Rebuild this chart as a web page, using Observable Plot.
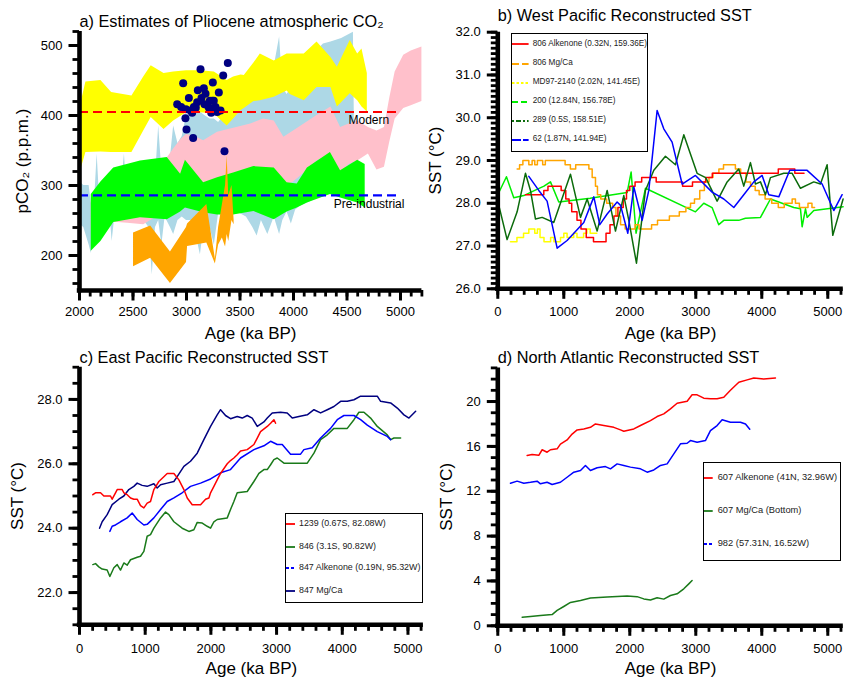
<!DOCTYPE html>
<html><head><meta charset="utf-8">
<script src="https://cdn.jsdelivr.net/npm/d3@7"></script>
<script src="https://cdn.jsdelivr.net/npm/@observablehq/plot@0.6"></script>
<style>
body{margin:0;background:#fff;}
#page{position:relative;width:844px;height:678px;overflow:hidden;background:#fff;font-family:"Liberation Sans",Arial,Helvetica,sans-serif;}
#page svg.panel{position:absolute;}
.lbox{position:absolute;border:1.6px solid #000;background:#fff;box-sizing:border-box;}
.litem{position:absolute;white-space:nowrap;color:#222;line-height:1;}
</style></head><body><div id="page"></div>
<script>
const aBlueX = [2000,2040,2090,2110,2140,2165,2190,2240,2290,2305,2330,2380,2420,2445,2480,2530,2600,2650,2680,2710,2740,2770,2800,2850,2880,2920,2960,3000,3060,3130,3170,3220,3260,3300,3350,3400,3450,3500,3560,3620,3660,3700,3760,3820,3870,3900,3940,3980,4020,4060,4130,4200,4280,4350,4450,4560,4575];
const aBlueLo = [245,240,215,203,250,240,260,250,250,220,255,250,255,250,250,250,250,240,172,240,250,215,255,240,230,250,255,250,250,201,250,240,215,260,260,250,260,260,255,240,228,250,230,255,230,250,262,245,265,270,275,280,285,290,290,300,320];
const aBlueHi = [306,300,300,275,275,345,275,275,275,275,275,280,345,280,280,280,285,290,300,310,385,320,330,340,385,360,370,400,405,405,400,395,395,390,400,420,430,432,440,445,445,440,430,470,512,440,430,440,445,460,470,490,502,505,510,519,300];
const aYellowX = [2010,2060,2200,2300,2490,2600,2670,2790,2880,3000,3130,3260,3380,3440,3510,3540,3630,3690,3820,3940,3970,4100,4220,4350,4410,4530,4600,4640,4690];
const aYellowHi = [415,448,450,433,428,455,471,460,462,464,464,462,450,455,458,457,475,488,478,488,488,488,505,483,469,507,488,495,460];
const aYellowLo = [321,347,348,347,347,378,397,380,392,404,404,402,385,395,407,410,420,421,426,435,430,421,440,440,412,431,421,412,405];
const aPinkX = [2110,2300,2450,2600,2720,2800,2880,2950,3000,3080,3160,3290,3450,3600,3720,3820,3910,4000,4100,4220,4350,4440,4520,4600,4700,4780,4850,4900,4950,5030,5100,5200];
const aPinkHi = [278,290,288,292,318,335,352,366,373,370,364,376,382,388,395,392,369,378,388,400,412,383,388,392,383,378,383,425,462,486,492,498];
const aPinkLo = [235,248,246,244,255,270,285,295,300,300,300,305,312,320,320,300,298,305,318,335,345,318,330,335,345,322,326,362,395,410,414,420];
const aGreenX = [2110,2200,2320,2570,2820,2945,2990,3160,3290,3440,3630,3820,3940,4035,4130,4345,4440,4600,4670];
const aGreenHi = [287,305,325,335,340,316,336,304,311,318,327,325,304,302,325,347,321,336,330];
const aGreenLo = [206,220,247,254,251,262,268,261,258,258,263,251,262,268,275,287,282,275,268];
const aOrangeX = [2505,2665,2850,3000,3010,3190,3270,3300,3335,3365,3380,3395,3425,3445];
const aOrangeHi = [232,242,205,240,245,273,195,240,272,300,342,285,300,250];
const aOrangeLo = [184,196,160,190,213,218,188,215,225,212,230,220,250,244];
const aDotX = [2913,2969,2994,3022,2990,3000,3062,3053,3100,3131,3106,3162,3178,3193,3231,3246,3255,3271,3302,3343,3386,3355,3287,3069,3240,3168,3037,3087,3209,3218,3318,2950,3140];
const aDotY = [416,446,409,425,396,380,368,404,419,466,436,439,431,415,404,447,421,412,433,457,475,349,405,412,421,416,407,411,411,421,407,412,425];
const aRefNames = ["Modern","Pre-industrial"];
const aRefLevels = [405, 286];
const aRefColors = ["#ff0000","#0000ff"];
const aRefSpan = [2000, 5000];
const aRefLabelX = [4704, 4706];
const aRefLabelY = [394, 274];

const bRedX = [419,697,760,960,1030,1080,1120,1200,1260,1340,1450,1640,1700,1760,1820,1900,1950,2000,2080,2180,2400,2800,2950,3150,3250,4250,4500,4640];
const bRedY = [28.2,28.3,28.4,28.3,28.1,28.0,27.8,27.6,27.4,27.2,27.1,27.3,27.5,27.7,27.9,28.1,28.3,28.4,28.5,28.6,28.5,28.4,28.5,28.6,28.7,28.8,28.7,28.7];
const bOrangeX = [293,330,380,470,520,560,600,680,720,1020,1100,1180,1380,1430,1480,1510,1560,1650,1740,1790,1860,1930,2080,2140,2330,2420,2600,2750,2850,2920,2980,3060,3130,3200,3260,3350,3420,3600,3680,3760,3830,3900,3960,4050,4150,4250,4340,4460,4510,4570,4700,4760,4800];
const bOrangeY = [28.8,28.9,29.0,28.9,29.0,28.9,29.0,28.9,29.0,28.9,28.8,28.9,28.8,28.6,28.4,28.2,28.1,28.0,27.9,27.7,27.5,27.4,27.5,27.4,27.5,27.6,27.7,27.8,27.9,28.0,28.1,28.3,28.5,28.6,28.7,28.8,28.9,28.8,28.7,28.5,28.4,28.3,28.2,28.1,28.0,27.9,28.0,28.1,28.0,27.9,28.0,27.9,27.9];
const bYellowX = [192,290,390,470,560,600,640,700,800,850,950,1000,1050,1150,1200,1300,1350,1400,1500];
const bYellowY = [27.1,27.2,27.3,27.4,27.3,27.4,27.2,27.1,27.2,27.1,27.2,27.3,27.2,27.3,27.2,27.3,27.4,27.3,27.3];
const bLimeX = [0,131,242,394,560,700,798,924,1400,1960,2020,2095,2237,2995,3121,3247,3348,3424,3651,3752,3980,4131,4485,4586,4611,4662,4687,4788,5232];
const bLimeY = [28.2,28.62,28.13,28.18,28.3,28.4,28.5,28.03,28.12,28.25,28.73,27.3,28.35,27.8,28.0,27.9,27.5,27.6,27.6,27.65,27.67,28.1,27.9,27.87,27.45,27.87,27.67,27.83,27.92];
const bDkGreenX = [0,141,293,419,495,571,672,848,1101,1253,1354,1505,1657,1783,1909,1985,2101,2237,2364,2540,2692,2818,3020,3150,3323,3475,3651,3727,3828,3904,3980,4055,4131,4333,4460,4586,4788,4889,4990,5076,5232];
const bDkGreenY = [28.05,27.15,27.8,28.7,28.3,27.63,27.67,27.55,28.68,27.67,28.1,27.35,28.3,27.35,28.18,27.6,26.6,28.3,28.77,29.1,28.9,29.6,28.7,28.6,28.05,28.5,28.8,28.4,28.95,28.45,28.5,28.2,28.6,28.7,28.7,28.35,28.5,28.45,28.9,27.25,28.1];
const bBlueX = [470,621,747,899,1050,1303,1455,1545,1657,1808,1860,1970,2061,2187,2288,2414,2515,2641,2793,2995,3247,3424,3576,3727,3879,4005,4106,4258,4424,4687,4914,5091,5217];
const bBlueY = [28.63,28.3,28.05,26.95,27.13,27.55,28.15,27.5,27.75,28.03,27.95,27.3,28.38,27.6,28.3,30.17,29.74,29.43,28.45,28.65,28.26,28.1,27.9,28.2,28.5,28.65,28.2,28.15,28.77,28.77,28.45,27.83,28.2];
const bLegendLabels = ["806 Alkenone (0.32N, 159.36E)","806 Mg/Ca","MD97-2140 (2.02N, 141.45E)","200 (12.84N, 156.78E)","289 (0.5S, 158.51E)","62 (1.87N, 141.94E)"];
const bColors = ["#ff0000","#ffa500","#ffff00","#00ee00","#0b6b0b","#0000ff"];
const bDashes = ["none","7,3","2.5,2","6,3","2,2,5,2","9,2"];

const cRedX = [203,244,320,371,472,497,548,574,650,675,726,777,827,878,929,980,1030,1081,1132,1208,1284,1335,1437,1513,1589,1640,1716,1843,1919,1970,1995,2046,2096,2147,2249,2299,2350,2401,2452,2553,2655,2706,2756,2858,2909,2959,2985];
const cRedY = [25.04,25.1,25.1,25.0,25.0,24.9,25.1,25.2,25.2,25.1,25.04,24.94,24.9,24.9,24.7,24.63,24.78,24.83,25.2,25.45,25.6,25.7,25.7,25.5,25.2,24.94,24.73,24.73,24.9,24.94,25.1,25.3,25.5,25.7,26.0,26.1,26.18,26.28,26.4,26.44,26.6,26.8,27.0,27.16,27.26,27.37,27.26];
const cGreenX = [203,244,294,345,421,462,523,574,624,675,726,777,878,929,980,1030,1081,1132,1234,1310,1360,1437,1563,1665,1741,1792,1868,1944,1995,2046,2096,2249,2299,2350,2401,2553,2655,2731,2807,2858,2909,2959,3010,3112,3467,3569,3670,3772,3873,4076,4178,4254,4330,4431,4533,4685,4736,4787,4888];
const cGreenY = [22.87,22.9,22.8,22.73,22.7,22.5,22.77,22.87,22.7,22.92,22.85,23.02,23.1,23.13,23.28,23.75,23.8,24.0,24.32,24.5,24.42,24.2,24.0,23.9,23.95,24.18,24.16,24.06,24.0,24.2,24.27,24.32,24.58,24.83,25.1,25.14,25.45,25.7,25.82,25.82,25.97,26.13,26.18,26.02,26.02,26.33,26.75,26.9,27.1,27.1,27.37,27.6,27.6,27.42,27.16,26.9,26.75,26.8,26.8];
const cBlueX = [462,497,548,624,726,802,878,980,1030,1132,1234,1335,1437,1563,1690,1843,1995,2147,2299,2452,2655,2807,2909,3010,3086,3213,3365,3416,3543,3670,3822,3924,4025,4178,4279,4381,4533,4685,4736];
const cBlueY = [23.9,24.06,24.1,24.2,24.32,24.47,24.27,24.1,24.12,24.32,24.58,24.83,24.94,25.1,25.3,25.4,25.53,25.72,25.82,26.18,26.44,26.56,26.7,26.6,26.6,26.3,26.3,26.44,26.5,26.8,27.1,27.37,27.5,27.5,27.37,27.2,27.0,26.85,26.75];
const cNavyX = [305,345,421,497,599,675,751,827,878,954,1030,1132,1183,1234,1335,1437,1487,1589,1690,1792,1893,1995,2096,2147,2223,2299,2401,2477,2553,2629,2706,2807,2858,2934,3061,3162,3239,3340,3467,3569,3670,3772,3873,3975,4076,4178,4279,4533,4584,4736,4838,4939,5015,5117];
const cNavyY = [24.0,24.2,24.42,24.73,24.9,25.0,25.2,25.3,25.4,25.33,25.3,25.38,25.25,25.35,25.4,25.45,25.6,25.92,26.08,26.33,26.75,27.16,27.52,27.68,27.5,27.4,27.47,27.42,27.5,27.42,27.16,27.3,27.42,27.58,27.6,27.58,27.42,27.47,27.52,27.68,27.58,27.68,27.78,27.94,27.94,27.99,28.1,28.1,27.94,27.89,27.73,27.52,27.42,27.63];
const cLegendLabels = ["1239 (0.67S, 82.08W)","846 (3.1S, 90.82W)","847 Alkenone (0.19N, 95.32W)","847 Mg/Ca"];
const cColors = ["#ff0000","#1a7a1a","#0000ff","#000080"];
const cDashes = ["none","none","3,2","none"];

const dRedX = [444,520,621,672,747,798,899,949,1050,1126,1202,1303,1404,1480,1606,1758,1859,1909,2061,2162,2313,2414,2515,2616,2717,2869,2944,3020,3121,3222,3323,3424,3525,3652,3778,3879,4030,4207];
const dRedY = [15.19,15.27,15.2,15.7,15.48,15.7,15.78,16.2,16.58,17.1,17.47,17.56,17.7,18.0,17.86,17.7,17.47,17.35,17.56,17.86,18.3,18.66,18.9,19.35,19.85,20.03,20.6,20.6,20.3,20.24,20.24,20.39,21.0,21.72,21.93,22.1,22.0,22.1];
const dBlueX = [192,293,394,495,596,646,747,823,949,1050,1152,1253,1328,1404,1505,1631,1707,1808,1909,2010,2162,2263,2364,2465,2566,2667,2768,2869,2919,3020,3146,3222,3323,3399,3525,3677,3753,3818];
const dBlueY = [12.72,12.9,12.72,12.8,12.9,12.66,12.8,12.6,12.8,13.25,13.7,13.85,14.3,13.85,14.1,14.2,14.0,14.44,14.3,14.15,14.0,13.7,13.9,14.3,14.44,15.33,16.23,16.28,16.52,16.37,16.52,17.41,17.86,18.37,18.16,18.16,18.0,17.53];
const dGreenX = [369,495,646,823,899,1000,1101,1253,1404,1657,1960,2111,2212,2313,2414,2515,2616,2717,2818,2894,2944];
const dGreenY = [0.77,0.83,0.92,1.0,1.37,1.72,2.08,2.26,2.47,2.56,2.65,2.6,2.4,2.3,2.5,2.38,2.7,2.85,3.3,3.74,4.04];
const dLegendLabels = ["607 Alkenone (41N, 32.96W)","607 Mg/Ca (Bottom)","982 (57.31N, 16.52W)"];
const dColors = ["#ff0000","#1a7a1a","#0000ff"];
const dDashes = ["none","none","3,2"];

const band = (xs, lo, hi) => xs.map((x, i) => ({x, lo: lo[i], hi: hi[i]}));
const pts = (xs, ys) => xs.map((x, i) => ({x, y: ys[i]}));
const range = (a, b, s) => d3.range(a, b + s / 2, s);
const FONT = "'Liberation Sans', Arial, Helvetica, sans-serif";

function axes(o) {
  const pw = o.W - o.ml - o.mr, ph = o.H - o.mt - o.mb;
  const ux = (o.xd[1] - o.xd[0]) / pw, uy = (o.yd[1] - o.yd[0]) / ph;
  const x0 = o.xd[0], y0 = o.yd[0];
  const K = "#000";
  return [
    Plot.ruleX(o.xMinor, {x: d => d, y1: y0, y2: y0 - 6.5 * uy, stroke: K, strokeWidth: 2.8}),
    Plot.ruleX(o.xMajor, {x: d => d, y1: y0, y2: y0 - 10.5 * uy, stroke: K, strokeWidth: 3}),
    Plot.ruleY(o.yMinor, {y: d => d, x1: x0, x2: x0 - 6.5 * ux, stroke: K, strokeWidth: 2.8}),
    Plot.ruleY(o.yMajor, {y: d => d, x1: x0, x2: x0 - 10.5 * ux, stroke: K, strokeWidth: 3}),
    Plot.ruleX([x0], {x: d => d, y1: o.yd[0] - 2.2 * uy, y2: o.yd[1], stroke: K, strokeWidth: 4.6}),
    Plot.ruleY([y0], {y: d => d, x1: o.xd[0] - 2.2 * ux, x2: o.xd[1], stroke: K, strokeWidth: 4.6}),
    Plot.text(o.xMajor, {x: d => d, y: y0, dy: 10.5 + o.xPad, text: o.xFmt, lineAnchor: "top", textAnchor: "middle", fontSize: 13, fill: K}),
    Plot.text(o.yMajor, {y: d => d, x: x0, dx: -17, text: o.yFmt, lineAnchor: "middle", textAnchor: "end", fontSize: 13, fill: K})
  ];
}
function labels(o) {
  return [
    Plot.text([o.title], {frameAnchor: "top-left", text: d => d, dy: o.tdy, textAnchor: "start", lineAnchor: "bottom", fontSize: 16.3, fill: "#000"}),
    Plot.text([o.xlabel], {frameAnchor: "bottom", text: d => d, dy: o.xdy, textAnchor: "middle", lineAnchor: "bottom", fontSize: 17, fill: "#000"}),
    Plot.text([o.ylabel], {frameAnchor: "left", text: d => d, dx: o.ydx, rotate: -90, textAnchor: "middle", lineAnchor: "middle", fontSize: 17, fill: "#000"})
  ];
}
function place(svg, left, top) {
  svg.classList.add("panel");
  svg.style.left = left + "px";
  svg.style.top = top + "px";
  document.getElementById("page").appendChild(svg);
}
const baseStyle = {background: "transparent", overflow: "visible", fontFamily: FONT, fontSize: "13px", color: "#000"};
function makePanel(g, marks) {
  return Plot.plot({
    width: g.W, height: g.H,
    marginLeft: g.ml, marginRight: g.mr, marginTop: g.mt, marginBottom: g.mb,
    style: baseStyle,
    x: {domain: g.xd, label: null, axis: null},
    y: {domain: g.yd, label: null, axis: null},
    marks: [...marks, ...axes(g), ...labels(g)]
  });
}

const gA = {W: 430, H: 340, ml: 79, mr: 8.6, mt: 31, mb: 50, xd: [2000, 5200], yd: [150, 520],
  xMinor: range(2000, 5200, 100), xMajor: range(2000, 5000, 500), yMinor: range(160, 520, 20), yMajor: [200, 300, 400, 500],
  xFmt: d => String(d), yFmt: d => String(d), xPad: 6,
  title: "a) Estimates of Pliocene atmospheric CO₂", tdy: -4.3, xlabel: "Age (ka BP)", xdy: 48, ylabel: "pCO₂ (p.p.m.)", ydx: -56.5};
place(makePanel(gA, [
  Plot.areaY(band(aBlueX, aBlueLo, aBlueHi), {x: "x", y1: "lo", y2: "hi", fill: "#add8e6"}),
  Plot.areaY(band(aYellowX, aYellowLo, aYellowHi), {x: "x", y1: "lo", y2: "hi", fill: "#ffff00"}),
  Plot.areaY(band(aPinkX, aPinkLo, aPinkHi), {x: "x", y1: "lo", y2: "hi", fill: "#ffc0cb"}),
  Plot.areaY(band(aGreenX, aGreenLo, aGreenHi), {x: "x", y1: "lo", y2: "hi", fill: "#00ff00"}),
  Plot.areaY(band(aOrangeX, aOrangeLo, aOrangeHi), {x: "x", y1: "lo", y2: "hi", fill: "#ffa500"}),
  Plot.dot(pts(aDotX, aDotY), {x: "x", y: "y", r: 4, fill: "#000080", stroke: "none"}),
  Plot.ruleY(aRefLevels.map((v, i) => ({v, c: aRefColors[i]})), {y: "v", x1: aRefSpan[0], x2: aRefSpan[1], stroke: "c", strokeWidth: 2.2, strokeDasharray: "9,5"}),
  Plot.text(aRefNames.map((t, i) => ({t, x: aRefLabelX[i], y: aRefLabelY[i]})), {x: "x", y: "y", text: "t", fontSize: 12, fill: "#000"})
]), 0, 0);

const gB = {W: 424, H: 340, ml: 77.3, mr: 1.2, mt: 31.7, mb: 51.7, xd: [0, 5235], yd: [26, 32],
  xMinor: range(0, 5200, 200), xMajor: range(0, 5000, 1000), yMinor: range(26, 32, 0.125), yMajor: range(26, 32, 1),
  xFmt: d => String(d), yFmt: d => d.toFixed(1), xPad: 7,
  title: "b) West Pacific Reconstructed SST", tdy: -11, xlabel: "Age (ka BP)", xdy: 50, ylabel: "SST (°C)", ydx: -61.8};
place(makePanel(gB, [
  Plot.line(pts(bYellowX, bYellowY), {x: "x", y: "y", stroke: bColors[2], strokeWidth: 1.5, curve: "step-after"}),
  Plot.line(pts(bLimeX, bLimeY), {x: "x", y: "y", stroke: bColors[3], strokeWidth: 1.5}),
  Plot.line(pts(bOrangeX, bOrangeY), {x: "x", y: "y", stroke: bColors[1], strokeWidth: 1.5, curve: "step-after"}),
  Plot.line(pts(bRedX, bRedY), {x: "x", y: "y", stroke: bColors[0], strokeWidth: 1.5, curve: "step-after"}),
  Plot.line(pts(bDkGreenX, bDkGreenY), {x: "x", y: "y", stroke: bColors[4], strokeWidth: 1.5}),
  Plot.line(pts(bBlueX, bBlueY), {x: "x", y: "y", stroke: bColors[5], strokeWidth: 1.5})
]), 420, 0);

const gC = {W: 430, H: 348, ml: 79, mr: 7.1, mt: 36.7, mb: 53.7, xd: [0, 5235], yd: [21, 29],
  xMinor: range(0, 5200, 200), xMajor: range(0, 5000, 1000), yMinor: range(21, 29, 0.5), yMajor: [22, 24, 26, 28],
  xFmt: d => String(d), yFmt: d => d.toFixed(1), xPad: 8,
  title: "c) East Pacific Reconstructed SST", tdy: -4.4, xlabel: "Age (ka BP)", xdy: 49.5, ylabel: "SST (°C)", ydx: -61.5};
place(makePanel(gC, [
  Plot.line(pts(cGreenX, cGreenY), {x: "x", y: "y", stroke: cColors[1], strokeWidth: 1.5}),
  Plot.line(pts(cBlueX, cBlueY), {x: "x", y: "y", stroke: cColors[2], strokeWidth: 1.5}),
  Plot.line(pts(cNavyX, cNavyY), {x: "x", y: "y", stroke: cColors[3], strokeWidth: 1.5}),
  Plot.line(pts(cRedX, cRedY), {x: "x", y: "y", stroke: cColors[0], strokeWidth: 1.5})
]), 0, 330);

const gD = {W: 424, H: 348, ml: 77.3, mr: 1.2, mt: 37.4, mb: 52.7, xd: [0, 5235], yd: [0, 23],
  xMinor: range(0, 5200, 200), xMajor: range(0, 5000, 1000), yMinor: range(0, 23, 1), yMajor: range(0, 20, 4),
  xFmt: d => String(d), yFmt: d => String(d), xPad: 7,
  title: "d) North Atlantic Reconstructed SST", tdy: -5.1, xlabel: "Age (ka BP)", xdy: 48.5, ylabel: "SST (°C)", ydx: -51.5};
place(makePanel(gD, [
  Plot.line(pts(dGreenX, dGreenY), {x: "x", y: "y", stroke: dColors[1], strokeWidth: 1.5}),
  Plot.line(pts(dBlueX, dBlueY), {x: "x", y: "y", stroke: dColors[2], strokeWidth: 1.5}),
  Plot.line(pts(dRedX, dRedY), {x: "x", y: "y", stroke: dColors[0], strokeWidth: 1.5})
]), 420, 330);

function legend(box, labelsArr, colors, dashes, ys, sx1, sx2, tx, fs) {
  const page = document.getElementById("page");
  const b = document.createElement("div");
  b.className = "lbox";
  Object.assign(b.style, {left: box[0] + "px", top: box[1] + "px", width: box[2] + "px", height: box[3] + "px"});
  page.appendChild(b);
  labelsArr.forEach((t, i) => {
    const s = document.createElementNS("http://www.w3.org/2000/svg", "svg");
    s.setAttribute("width", sx2 - sx1 + 2); s.setAttribute("height", 6);
    Object.assign(s.style, {position: "absolute", left: (sx1 - 1) + "px", top: (ys[i] - 3) + "px"});
    const l = document.createElementNS("http://www.w3.org/2000/svg", "line");
    l.setAttribute("x1", 1); l.setAttribute("x2", sx2 - sx1 + 1); l.setAttribute("y1", 3); l.setAttribute("y2", 3);
    l.setAttribute("stroke", colors[i]); l.setAttribute("stroke-width", 1.8);
    if (dashes[i] !== "none") l.setAttribute("stroke-dasharray", dashes[i]);
    s.appendChild(l); page.appendChild(s);
    const d = document.createElement("div");
    d.className = "litem"; d.textContent = t;
    Object.assign(d.style, {left: tx + "px", top: (ys[i] - fs * 0.55) + "px", fontSize: fs + "px"});
    page.appendChild(d);
  });
}
legend([510.7, 33.3, 137.6, 118.4], bLegendLabels, bColors, bDashes, [44.3, 63.7, 82.7, 102, 121, 140], 511.7, 528.3, 532.7, 8.2);
legend([285, 512.7, 137.7, 90], cLegendLabels, cColors, cDashes, [524.3, 546.7, 568.3, 590.7], 286, 295, 299, 8.9);
legend([703.3, 461.7, 137.4, 99.3], dLegendLabels, dColors, dDashes, [478.3, 511, 543.7], 704, 712.7, 717.7, 9.3);
</script></body></html>
